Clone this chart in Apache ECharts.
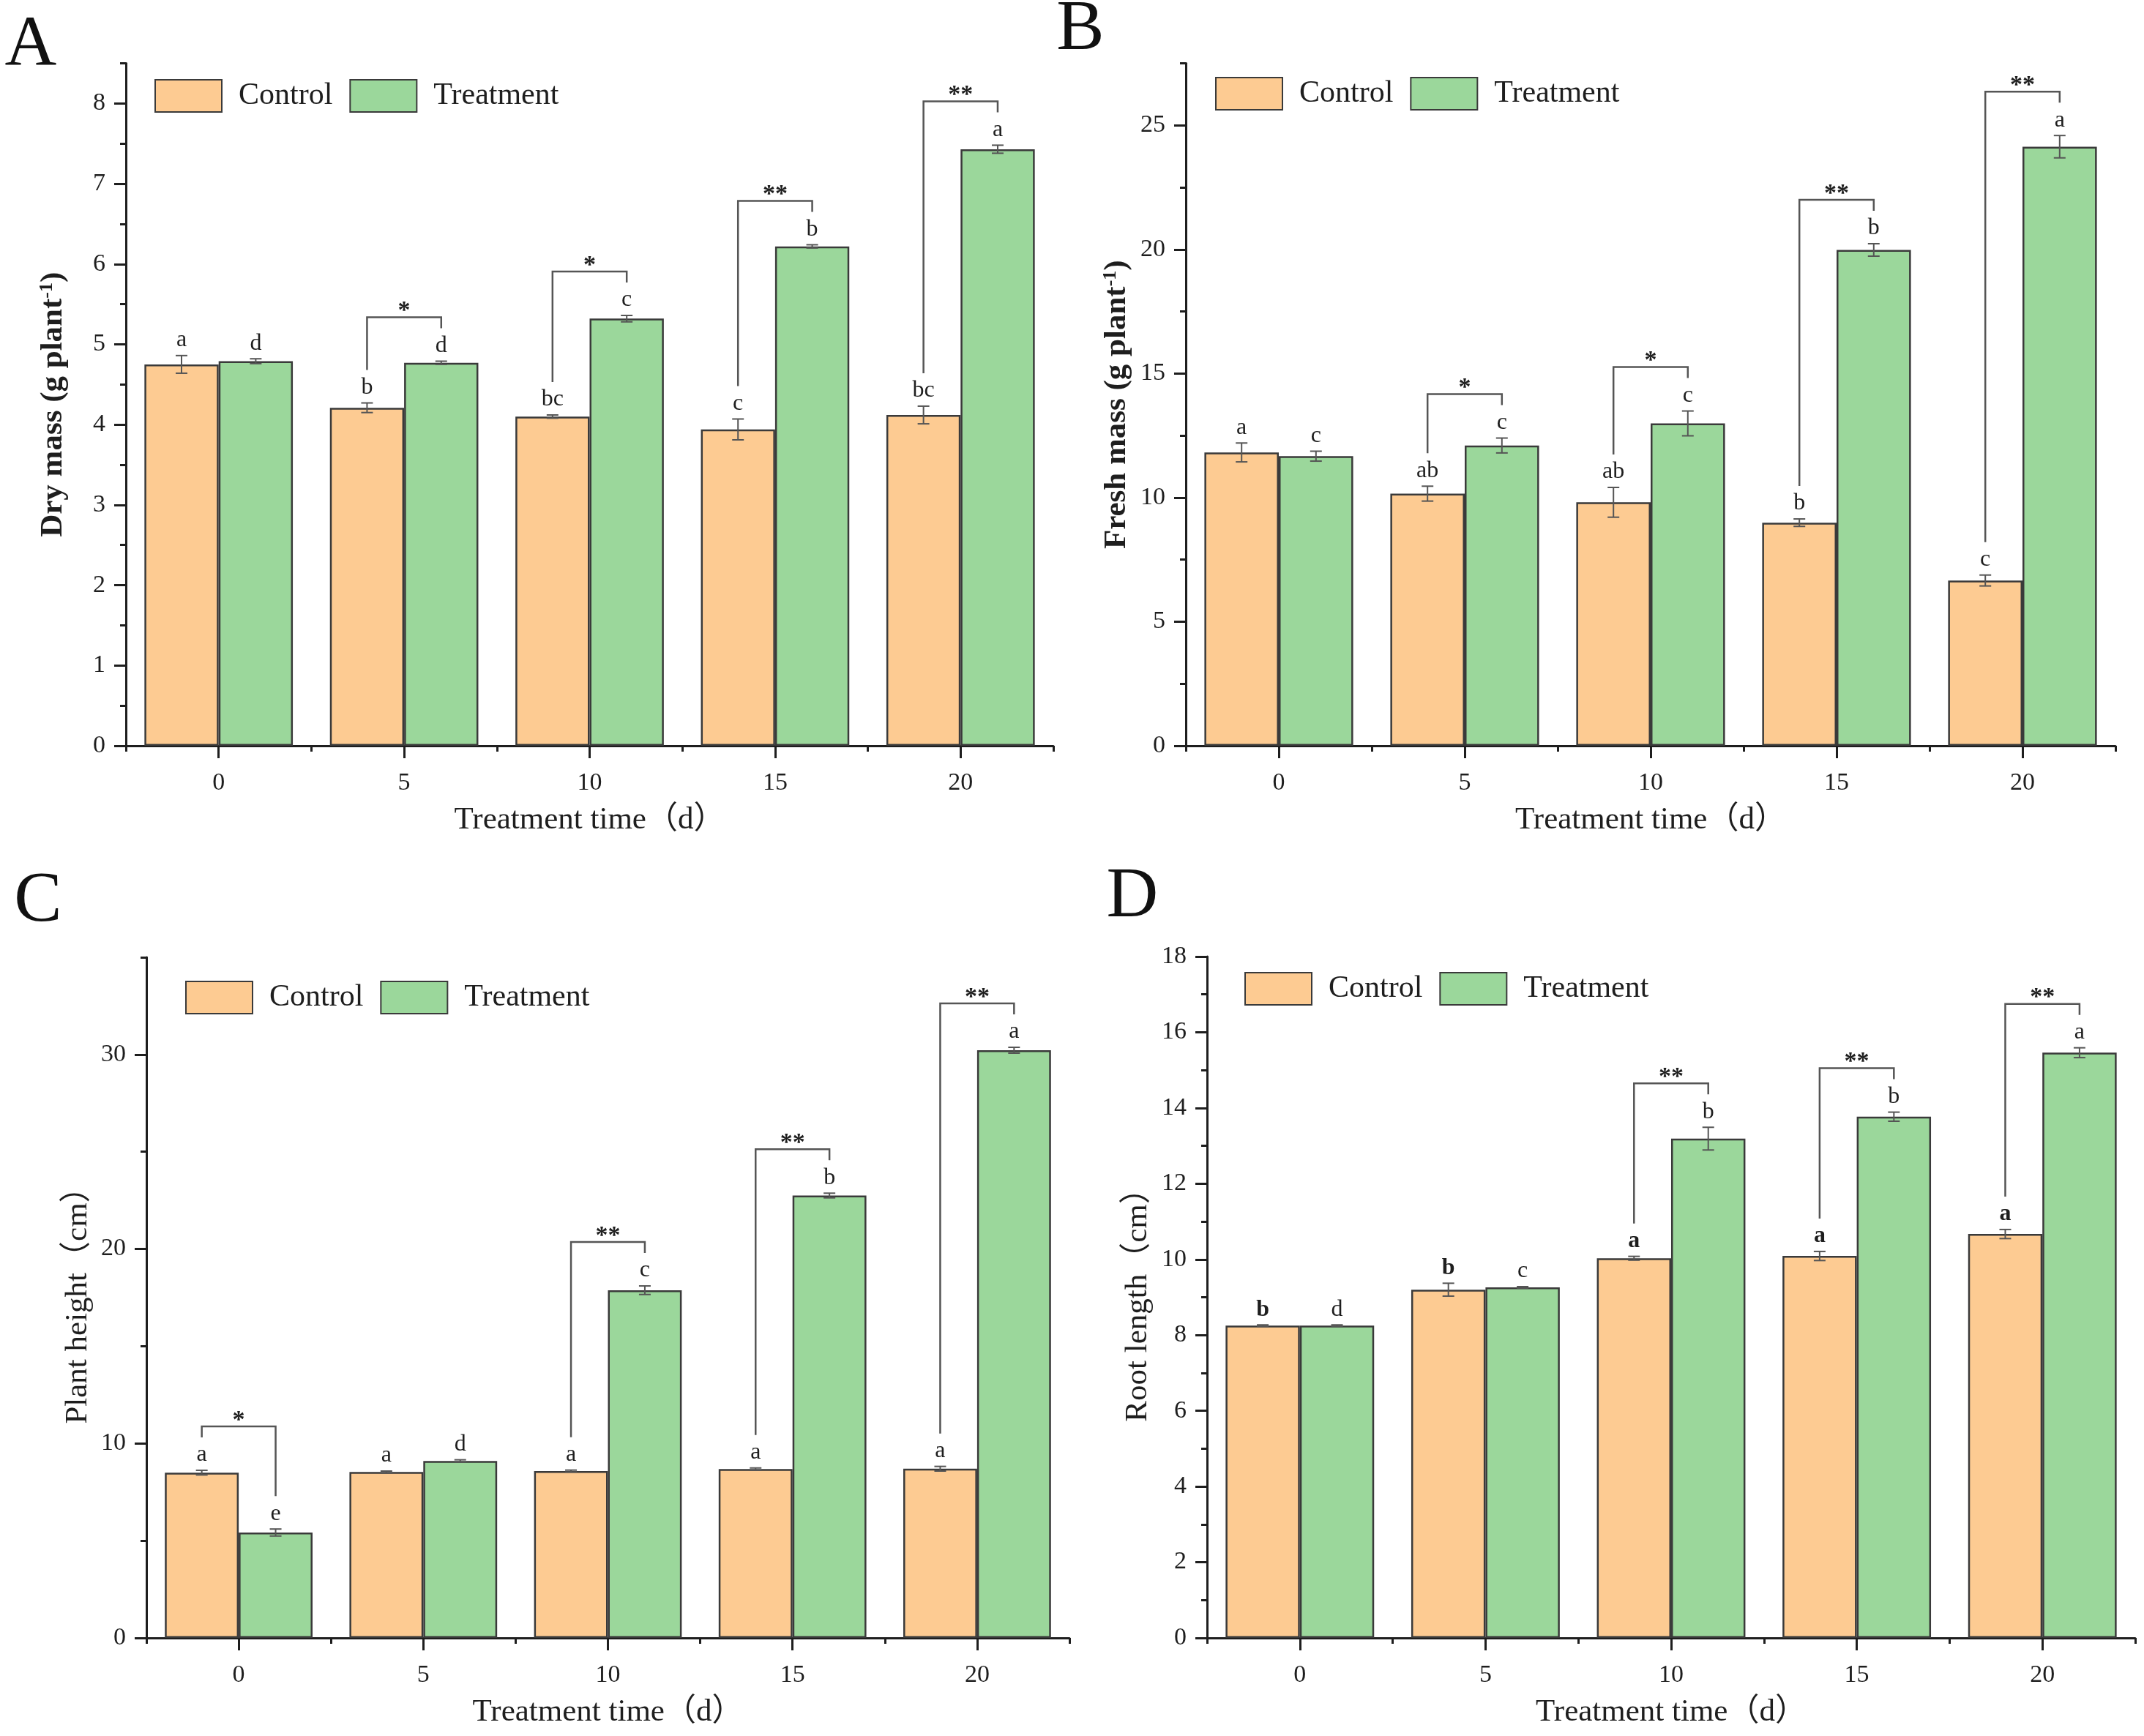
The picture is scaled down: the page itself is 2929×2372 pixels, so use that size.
<!DOCTYPE html>
<html>
<head>
<meta charset="utf-8">
<script src="https://cdn.jsdelivr.net/npm/echarts@6/dist/echarts.min.js"></script>
<style>
html,body{margin:0;padding:0;background:#fff;}
#chart{width:2929px;height:2372px;}
</style>
</head>
<body>
<div id="chart"></div>
<script>
// ---------- data ----------
const categories = ['0', '5', '10', '15', '20'];
const seriesNames = ['Control', 'Treatment'];

// A: Dry mass
const dryControl = [4.75, 4.21, 4.10, 3.94, 4.12];
const dryControlErr = [0.11, 0.06, 0.02, 0.13, 0.11];
const dryTreatment = [4.79, 4.77, 5.32, 6.22, 7.43];
const dryTreatmentErr = [0.03, 0.02, 0.04, 0.02, 0.05];
const dryControlLetters = ['a', 'b', 'bc', 'c', 'bc'];
const dryTreatmentLetters = ['d', 'd', 'c', 'b', 'a'];
const drySignif = ['', '*', '*', '**', '**'];

// B: Fresh mass
const freshControl = [11.82, 10.16, 9.81, 8.99, 6.66];
const freshControlErr = [0.38, 0.30, 0.60, 0.15, 0.22];
const freshTreatment = [11.67, 12.10, 12.99, 19.98, 24.14];
const freshTreatmentErr = [0.20, 0.30, 0.50, 0.25, 0.45];
const freshControlLetters = ['a', 'ab', 'ab', 'b', 'c'];
const freshTreatmentLetters = ['c', 'c', 'c', 'b', 'a'];
const freshSignif = ['', '*', '*', '**', '**'];

// C: Plant height
const heightControl = [8.50, 8.53, 8.58, 8.68, 8.70];
const heightControlErr = [0.12, 0.05, 0.05, 0.06, 0.12];
const heightTreatment = [5.42, 9.10, 17.88, 22.75, 30.22];
const heightTreatmentErr = [0.18, 0.06, 0.22, 0.12, 0.15];
const heightControlLetters = ['a', 'a', 'a', 'a', 'a'];
const heightTreatmentLetters = ['e', 'd', 'c', 'b', 'a'];
const heightSignif = ['*', '', '**', '**', '**'];

// D: Root length
const rootControl = [8.25, 9.20, 10.03, 10.09, 10.67];
const rootControlErr = [0.02, 0.17, 0.05, 0.12, 0.12];
const rootTreatment = [8.25, 9.26, 13.19, 13.77, 15.46];
const rootTreatmentErr = [0.02, 0.02, 0.30, 0.12, 0.13];
const rootControlLetters = ['b', 'b', 'a', 'a', 'a'];
const rootTreatmentLetters = ['d', 'c', 'b', 'b', 'a'];
const rootSignif = ['', '', '**', '**', '**'];

// y-axis scales: [max, minor step, major step]
const dryScale = [8.5, 0.5, 1];
const freshScale = [27.5, 2.5, 5];
const heightScale = [35, 5, 10];
const rootScale = [18, 1, 2];

// ---------- styling / layout ----------
const SERIF = '"Liberation Serif","Times New Roman","Noto Sans CJK SC",serif';
const INK = '#1e1e1e';
const CONTROL_COLOR = '#FDCB92';
const TREAT_COLOR = '#9BD79B';
const EDGE = '#3a3a3a';
const ERR_COLOR = '#555';

const panels = [
  {letter: 'A', lx: 42, ly: 62, grid: {left: 172, top: 86.5, width: 1267, height: 932.5},
   legend: [211, 108], yName: 'Dry mass (g plant{s|-1})', yBold: true, yGap: 78,
   ctrl: dryControl, ctrlErr: dryControlErr, trt: dryTreatment, trtErr: dryTreatmentErr,
   ctrlLet: dryControlLetters, trtLet: dryTreatmentLetters, sig: drySignif, scale: dryScale, boldCtrlLetters: false},
  {letter: 'B', lx: 1476, ly: 41, grid: {left: 1620, top: 86.5, width: 1270, height: 932.5},
   legend: [1660, 105], yName: 'Fresh mass (g plant{s|-1})', yBold: true, yGap: 73,
   ctrl: freshControl, ctrlErr: freshControlErr, trt: freshTreatment, trtErr: freshTreatmentErr,
   ctrlLet: freshControlLetters, trtLet: freshTreatmentLetters, sig: freshSignif, scale: freshScale, boldCtrlLetters: false},
  {letter: 'C', lx: 52, ly: 1232, grid: {left: 200, top: 1308, width: 1261, height: 930},
   legend: [253, 1340], yName: 'Plant height（cm）', yBold: false, yGap: 72,
   ctrl: heightControl, ctrlErr: heightControlErr, trt: heightTreatment, trtErr: heightTreatmentErr,
   ctrlLet: heightControlLetters, trtLet: heightTreatmentLetters, sig: heightSignif, scale: heightScale, boldCtrlLetters: false},
  {letter: 'D', lx: 1547, ly: 1226, grid: {left: 1649, top: 1307, width: 1268, height: 931},
   legend: [1700, 1328], yName: 'Root length（cm）', yBold: false, yGap: 73,
   ctrl: rootControl, ctrlErr: rootControlErr, trt: rootTreatment, trtErr: rootTreatmentErr,
   ctrlLet: rootControlLetters, trtLet: rootTreatmentLetters, sig: rootSignif, scale: rootScale, boldCtrlLetters: true}
];

function steps(max, step) {
  const out = [];
  for (let v = 0; v <= max + 1e-9; v += step) out.push(Math.round(v * 1000) / 1000);
  return out;
}

const grids = [], xAxes = [], yAxes = [], series = [], legends = [], graphics = [];

panels.forEach((p, k) => {
  grids.push(Object.assign({containLabel: false}, p.grid));
  const [ymax, minorStep, majorStep] = p.scale;

  // primary x axis: labels + boundary (minor) ticks
  xAxes.push({
    type: 'category', gridIndex: k, position: 'bottom', data: categories, boundaryGap: true,
    name: 'Treatment time（d）', nameLocation: 'middle', nameGap: 80,
    nameTextStyle: {fontFamily: SERIF, fontSize: 43, color: INK},
    axisLine: {show: true, lineStyle: {color: INK, width: 3}},
    axisTick: {show: true, alignWithLabel: false, inside: false, length: 8, lineStyle: {color: INK, width: 3}},
    axisLabel: {fontFamily: SERIF, fontSize: 34, color: INK, margin: 34},
    splitLine: {show: false}
  });
  // secondary x axis: major ticks at category centres
  xAxes.push({
    type: 'category', gridIndex: k, position: 'bottom', data: categories, boundaryGap: true,
    axisLine: {show: false},
    axisTick: {show: true, alignWithLabel: true, inside: false, length: 17, lineStyle: {color: INK, width: 3}},
    axisLabel: {show: false}, splitLine: {show: false}
  });
  // primary y axis: minor ticks + labels on majors
  yAxes.push({
    type: 'value', gridIndex: k, position: 'left', min: 0, max: ymax, interval: minorStep,
    name: p.yName, nameLocation: 'middle', nameGap: p.yGap,
    nameTextStyle: {fontFamily: SERIF, fontSize: 43, color: INK, fontWeight: p.yBold ? 'bold' : 'normal',
      rich: {s: {fontFamily: SERIF, fontSize: 26, color: INK, fontWeight: p.yBold ? 'bold' : 'normal', verticalAlign: 'top', lineHeight: 26}}},
    axisLine: {show: true, lineStyle: {color: INK, width: 3}},
    axisTick: {show: true, inside: false, length: 8, lineStyle: {color: INK, width: 3}},
    axisLabel: {fontFamily: SERIF, fontSize: 34, color: INK, margin: 28,
      formatter: function (v) {
        const r = v / majorStep;
        return Math.abs(r - Math.round(r)) < 1e-6 ? String(v) : '';
      }},
    splitLine: {show: false}
  });
  // secondary y axis: major ticks
  yAxes.push({
    type: 'value', gridIndex: k, position: 'left', min: 0, max: ymax, interval: majorStep,
    axisLine: {show: false},
    axisTick: {show: true, inside: false, length: 16, lineStyle: {color: INK, width: 3},
      customValues: steps(Math.floor(ymax / majorStep) * majorStep, majorStep)},
    axisLabel: {show: false}, splitLine: {show: false}
  });

  const common = {xAxisIndex: 2 * k, yAxisIndex: 2 * k, barGap: '0%', barCategoryGap: '20%', silent: true};
  series.push(Object.assign({type: 'bar', name: seriesNames[0], data: p.ctrl,
    itemStyle: {color: CONTROL_COLOR, borderColor: EDGE, borderWidth: 2.5}}, common));
  series.push(Object.assign({type: 'bar', name: seriesNames[1], data: p.trt,
    itemStyle: {color: TREAT_COLOR, borderColor: EDGE, borderWidth: 2.5}}, common));

  // error bars, letters and significance brackets
  series.push({
    type: 'custom', xAxisIndex: 2 * k, yAxisIndex: 2 * k, silent: true, z: 10, clip: false,
    data: categories.map((c, i) => [i, p.ctrl[i], p.ctrlErr[i], p.trt[i], p.trtErr[i]]),
    encode: {x: 0, y: [1, 3]},
    renderItem: function (params, api) {
      const i = api.value(0);
      const cw = api.size([1, 0])[0];
      const base = api.coord([i, 0]);
      const xs = [base[0] - cw * 0.2, base[0] + cw * 0.2];
      const vals = [[api.value(1), api.value(2)], [api.value(3), api.value(4)]];
      const lets = [p.ctrlLet[i], p.trtLet[i]];
      const children = [];
      const tops = [];
      vals.forEach((ve, j) => {
        const x = xs[j];
        const yt = api.coord([i, ve[0] + ve[1]])[1];
        const yb = api.coord([i, ve[0] - ve[1]])[1];
        tops.push(yt);
        const ls = {stroke: ERR_COLOR, lineWidth: 2};
        children.push({type: 'line', shape: {x1: x, y1: yt, x2: x, y2: yb}, style: ls});
        children.push({type: 'line', shape: {x1: x - 8, y1: yt, x2: x + 8, y2: yt}, style: ls});
        children.push({type: 'line', shape: {x1: x - 8, y1: yb, x2: x + 8, y2: yb}, style: ls});
        children.push({type: 'text', style: {
          text: lets[j], x: x, y: yt - 5, align: 'center', verticalAlign: 'bottom',
          font: ((j === 0 && p.boldCtrlLetters) ? 'bold ' : '') + '32px ' + SERIF, fill: INK}});
      });
      const s = p.sig[i];
      if (s) {
        const lineY = Math.min(tops[0], tops[1]) - 60;
        children.push({type: 'polyline', shape: {points: [
          [xs[0], tops[0] - 45], [xs[0], lineY], [xs[1], lineY], [xs[1], tops[1] - 45]]},
          style: {stroke: ERR_COLOR, lineWidth: 2.5, fill: null}});
        children.push({type: 'text', style: {
          text: s, x: (xs[0] + xs[1]) / 2, y: lineY - 8, align: 'center', verticalAlign: 'middle',
          font: 'bold 34px ' + SERIF, fill: INK}});
      }
      return {type: 'group', children: children};
    }
  });

  legends.push({
    left: p.legend[0], top: p.legend[1], padding: 0, orient: 'horizontal',
    itemWidth: 91, itemHeight: 44, itemGap: 23, icon: 'rect', selectedMode: false,
    data: seriesNames,
    textStyle: {fontFamily: SERIF, fontSize: 42, color: INK, padding: [0, 0, 0, 18]}
  });

  graphics.push({type: 'text', x: p.lx, y: p.ly,
    style: {text: p.letter, x: 0, y: 0, align: 'center', verticalAlign: 'middle',
      font: '98px ' + SERIF, fill: '#111'}});
});

const chart = echarts.init(document.getElementById('chart'), null, {renderer: 'canvas'});
chart.setOption({
  animation: false,
  backgroundColor: '#fff',
  grid: grids,
  xAxis: xAxes,
  yAxis: yAxes,
  legend: legends,
  series: series,
  graphic: graphics
});
</script>
</body>
</html>
